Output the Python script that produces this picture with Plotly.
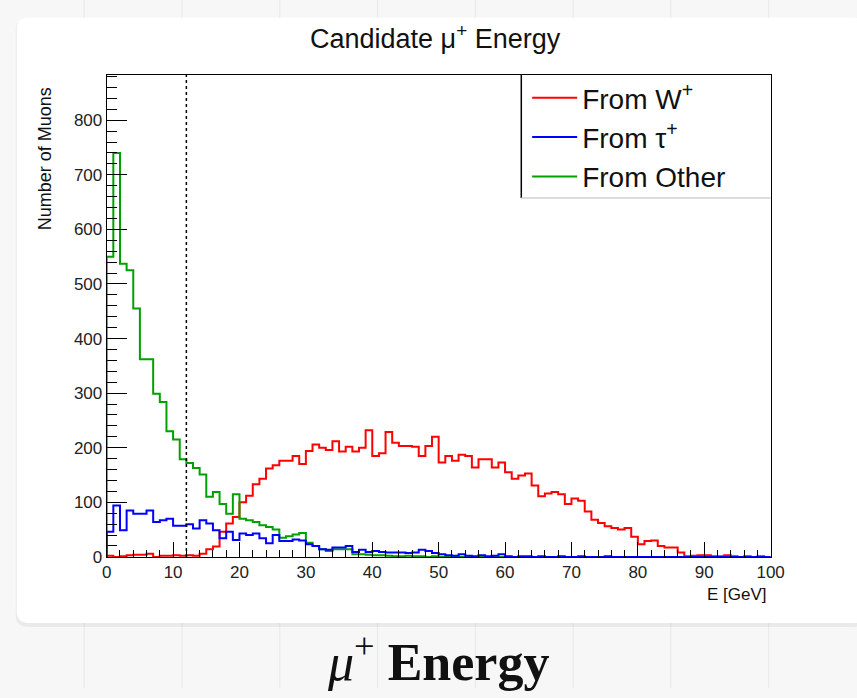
import plotly.graph_objects as go

# ---------------------------------------------------------------
# Candidate mu+ energy spectrum, 1 GeV bins from 0 to 100 GeV
# ---------------------------------------------------------------
bin_edges = list(range(0, 101))

w_counts = [
    2, 0, 1, 3, 4, 4, 6, 0, 2, 2,
    3, 2, 3, 2, 6, 14, 19, 46, 61, 73,
    100, 112, 133, 143, 162, 168, 176, 176, 185, 170,
    194, 206, 200, 196, 212, 193, 202, 193, 200, 232,
    185, 190, 229, 209, 203, 203, 202, 185, 203, 220,
    173, 185, 176, 187, 185, 164, 179, 179, 164, 173,
    155, 143, 149, 153, 131, 111, 116, 119, 115, 97,
    107, 103, 83, 68, 62, 56, 53, 50, 53, 37,
    23, 29, 30, 20, 17, 17, 8, 1, 2, 3,
    3, 1, 1, 3, 1, 0, 1, 0, 1, 0,
]

tau_counts = [
    46, 94, 49, 85, 79, 79, 85, 64, 67, 70,
    57, 57, 60, 52, 67, 61, 49, 34, 46, 31,
    43, 40, 43, 34, 25, 40, 29, 29, 32, 30,
    23, 20, 14, 13, 17, 17, 20, 9, 13, 9,
    11, 9, 8, 8, 8, 7, 8, 13, 11, 7,
    5, 3, 2, 5, 2, 1, 3, 1, 2, 5,
    1, 0, 1, 1, 0, 1, 0, 0, 1, 0,
    0, 1, 0, 0, 0, 1, 0, 0, 0, 0,
    0, 0, 0, 0, 0, 0, 0, 0, 0, 0,
    0, 0, 0, 0, 0, 0, 0, 0, 0, 0,
]

other_counts = [
    550, 740, 537, 525, 455, 362, 362, 299, 284, 230,
    215, 179, 172, 163, 151, 110, 119, 97, 79, 115,
    70, 67, 64, 58, 55, 50, 35, 38, 41, 44,
    26, 20, 14, 11, 14, 14, 14, 5, 5, 4,
    3, 3, 2, 1, 1, 2, 1, 1, 0, 1,
    0, 0, 1, 0, 0, 0, 0, 0, 0, 0,
    0, 0, 0, 0, 0, 0, 0, 0, 0, 0,
    0, 0, 0, 0, 0, 0, 0, 0, 0, 0,
    0, 0, 0, 0, 0, 0, 0, 0, 0, 0,
    0, 0, 0, 0, 0, 0, 0, 0, 0, 0,
]

series_names = ["From W<sup>+</sup>", "From \u03c4<sup>+</sup>", "From Other"]
series_colors = ["#ff0000", "#0000ff", "#00a000"]

energy_cut = 12          # GeV, selection threshold
x_range = [0, 100]
y_range = [0, 883]
x_ticks = list(range(0, 101, 10))

W, H = 857, 698


def px(x):
    return x / W


def py(y):
    return 1 - y / H


def step_xy(counts):
    """Outline of a histogram, closed down to the baseline at both ends."""
    xs = [bin_edges[0]] + bin_edges + [bin_edges[-1]]
    ys = [0] + list(counts) + [counts[-1], 0]
    return xs, ys


fig = go.Figure()

draw_order = [(0, w_counts), (2, other_counts), (1, tau_counts)]
for idx, counts in draw_order:
    xs, ys = step_xy(counts)
    fig.add_trace(go.Scatter(
        x=xs, y=ys, mode="lines", line_shape="hv",
        line=dict(color=series_colors[idx], width=2),
        name=series_names[idx], legendgroup=f"g{idx}", legendrank=idx + 1,
        hoverinfo="skip",
    ))

# dotted selection line
fig.add_trace(go.Scatter(
    x=[energy_cut, energy_cut], y=y_range, mode="lines",
    line=dict(color="black", width=1.5, dash="dot"),
    showlegend=False, hoverinfo="skip",
))

# page background: faint grid, card shadow and white card
shapes = []
for gx in [81, 181, 281, 381, 481, 581, 681, 781]:
    shapes.append(dict(type="line", xref="paper", yref="paper",
                       x0=px(gx), x1=px(gx), y0=0, y1=1,
                       line=dict(color="#e8e8e8", width=1), layer="below"))


def rounded_rect(x0, y0, x1, y1, r):
    X0, X1 = px(x0), px(x1)
    Y0, Y1 = py(y0), py(y1)
    rx, ry = r / W, r / H
    return (f"M {X0+rx},{Y0} L {X1-rx},{Y0} Q {X1},{Y0} {X1},{Y0-ry} "
            f"L {X1},{Y1+ry} Q {X1},{Y1} {X1-rx},{Y1} "
            f"L {X0+rx},{Y1} Q {X0},{Y1} {X0},{Y1+ry} "
            f"L {X0},{Y0-ry} Q {X0},{Y0} {X0+rx},{Y0} Z")


shapes.append(dict(type="path", xref="paper", yref="paper",
                   path=rounded_rect(11, 19, 880, 636, 12),
                   fillcolor="rgba(0,0,0,0.05)", line=dict(width=0), layer="below"))
shapes.append(dict(type="path", xref="paper", yref="paper",
                   path=rounded_rect(12, 18, 880, 632, 12),
                   fillcolor="white", line=dict(width=0), layer="below"))

# legend box
shapes.append(dict(type="rect", xref="paper", yref="paper",
                   x0=px(528), x1=px(783), y0=py(201), y1=py(76),
                   fillcolor="white", line=dict(width=0), layer="below"))
shapes.append(dict(type="line", xref="paper", yref="paper",
                   x0=px(528), x1=px(528), y0=py(201), y1=py(76),
                   line=dict(color="black", width=1.5)))
shapes.append(dict(type="line", xref="paper", yref="paper",
                   x0=px(528), x1=px(783), y0=py(201), y1=py(201),
                   line=dict(color="#d0d0d0", width=1.5)))

font_sans = "Liberation Sans, Arial, sans-serif"

annotations = [
    dict(text="Candidate \u03bc<sup>+</sup> Energy", x=px(440), y=py(38),
         xref="paper", yref="paper", xanchor="center", yanchor="middle",
         showarrow=False, font=dict(family=font_sans, size=27, color="#111")),
    dict(text="Number of Muons", x=px(41), y=py(87), textangle=-90,
         xref="paper", yref="paper", xanchor="center", yanchor="top",
         showarrow=False, font=dict(family=font_sans, size=18, color="#111")),
    dict(text="E [GeV]", x=px(781), y=py(603), xanchor="right", yanchor="middle",
         xref="paper", yref="paper", showarrow=False,
         font=dict(family=font_sans, size=17, color="#111")),
    dict(text="<i>\u03bc</i><sup>+</sup> <b>Energy</b>", x=px(443), y=py(668),
         xref="paper", yref="paper", xanchor="center", yanchor="middle",
         showarrow=False,
         font=dict(family="Liberation Serif, Times New Roman, serif", size=52, color="#111")),
]

fig.update_layout(
    width=W, height=H, autosize=False,
    margin=dict(l=0, r=0, t=0, b=0, pad=0),
    paper_bgcolor="#f7f7f7", plot_bgcolor="white",
    shapes=shapes, annotations=annotations,
    showlegend=True,
    legend=dict(x=px(534), y=py(74), xanchor="left", yanchor="top",
                bgcolor="rgba(0,0,0,0)", borderwidth=0,
                font=dict(family=font_sans, size=28, color="#111"),
                itemwidth=45, tracegroupgap=0, traceorder="grouped"),
    xaxis=dict(domain=[px(104), px(783)], range=x_range,
               tickvals=x_ticks, ticks="inside", ticklen=15, tickwidth=1,
               tickcolor="black",
               minor=dict(dtick=2, ticks="inside", ticklen=7, tickcolor="black"),
               showline=True, mirror=True, linecolor="black", linewidth=1,
               showgrid=False, zeroline=False, fixedrange=True,
               tickfont=dict(family=font_sans, size=17, color="#222")),
    yaxis=dict(domain=[py(565), py(76)], range=y_range,
               tick0=0, dtick=100, ticks="inside", ticklen=20, tickwidth=1,
               tickcolor="black",
               minor=dict(dtick=20, ticks="inside", ticklen=10, tickcolor="black"),
               showline=True, mirror=True, linecolor="black", linewidth=1,
               showgrid=False, zeroline=False, fixedrange=True,
               tickfont=dict(family=font_sans, size=17, color="#222")),
)

fig.write_html("out.html")
